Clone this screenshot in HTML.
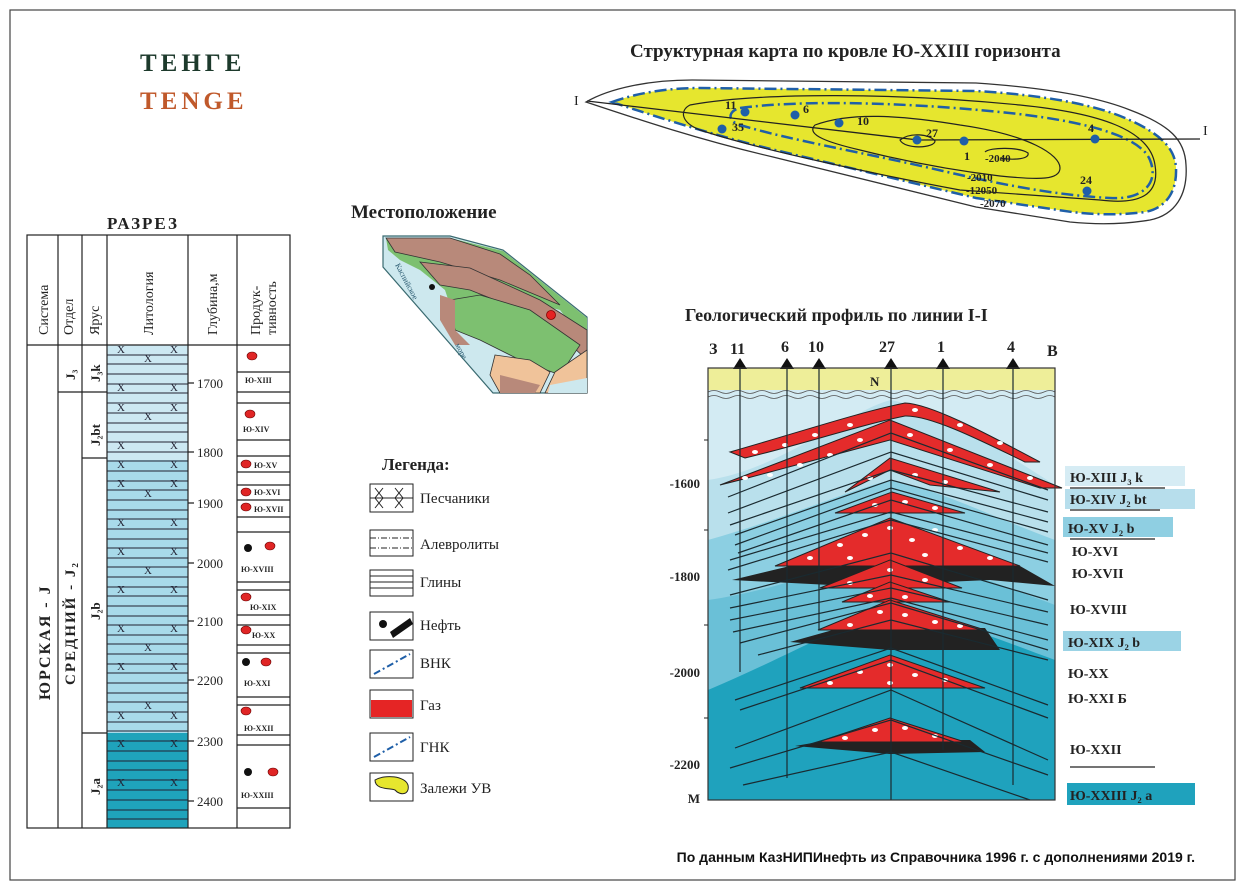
<!DOCTYPE html>
<html><head><meta charset="utf-8"><style>
html,body{margin:0;padding:0;background:#fff}
svg{display:block}
text{font-family:"Liberation Serif",serif}
</style></head><body>
<svg width="1247" height="891" viewBox="0 0 1247 891" xmlns="http://www.w3.org/2000/svg">
<rect x="10" y="10" width="1225" height="870" fill="#fff" stroke="#444" stroke-width="1.2"/>
<!-- titles -->
<text x="140" y="71" font-size="25" font-weight="bold" fill="#1d3a2c" letter-spacing="4">ТЕНГЕ</text>
<text x="140" y="109" font-size="25" font-weight="bold" fill="#c0592b" letter-spacing="4">TENGE</text>
<text x="630" y="57" font-size="19" font-weight="bold" fill="#222">Структурная карта по  кровле Ю-XXIII горизонта</text>
<text x="107" y="229" font-size="17" font-weight="bold" fill="#222" letter-spacing="2">РАЗРЕЗ</text>
<text x="351" y="218" font-size="19" font-weight="bold" fill="#222">Местоположение</text>
<text x="685" y="321" font-size="18" font-weight="bold" fill="#222">Геологический профиль по линии I-I</text>
<text x="382" y="470" font-size="17" font-weight="bold" fill="#222">Легенда:</text>
<text x="1195" y="862" font-size="14" font-weight="bold" fill="#111" text-anchor="end" style="font-family:'Liberation Sans',sans-serif">По данным КазНИПИнефть из Справочника 1996 г. с дополнениями 2019 г.</text>

<!-- STRUCT MAP -->
<path d="M586,102 C610,88 650,80 692,80 L976,83 C1050,88 1100,98 1130,110 C1170,125 1185,140 1186,165 C1188,195 1175,215 1150,220 C1120,225 1090,224 1070,222 L976,207 L773,157 C700,140 640,120 586,102Z" fill="#fff" stroke="#333" stroke-width="1.3"/>
<path d="M612,102 C640,92 670,88 700,88 L976,91 C1045,95 1095,105 1125,118 C1160,133 1175,148 1176,168 C1177,192 1166,208 1145,212 C1115,216 1090,214 1072,212 L976,198 L775,150 C720,137 660,118 612,102Z" fill="#e6e62e" stroke="#1f5fa8" stroke-width="2.5" stroke-dasharray="12,4,2,4"/>
<path d="M740,108 C800,100 900,102 1000,112 C1080,120 1140,135 1150,160 C1160,185 1140,200 1110,198 C1050,195 990,182 930,168 C860,152 790,140 740,125 C725,120 730,110 740,108Z" fill="none" stroke="#1f5fa8" stroke-width="2.5" stroke-dasharray="12,4,2,4"/>
<path d="M690,105 C760,92 900,93 1020,105 C1100,113 1150,130 1155,165 C1160,195 1140,205 1100,200 L960,190 C880,175 760,150 700,130 C680,122 680,110 690,105Z" fill="none" stroke="#222" stroke-width="1.2"/>
<path d="M815,125 C850,112 900,115 960,125 C1030,135 1060,155 1060,168 C1060,180 1040,180 1000,176 C950,170 900,160 860,150 C830,143 805,135 815,125Z" fill="none" stroke="#222" stroke-width="1.2"/>
<path d="M900,140 C910,132 930,134 935,141 C935,148 905,150 900,140Z" fill="none" stroke="#222" stroke-width="1.2"/>
<path d="M985,152 C990,147 1020,147 1028,153 C1030,160 1010,160 1000,158" fill="none" stroke="#222" stroke-width="1.2"/>
<line x1="587" y1="101" x2="918" y2="140" stroke="#222" stroke-width="1.3"/>
<line x1="918" y1="140" x2="1200" y2="139" stroke="#222" stroke-width="1.3"/>
<text x="574" y="105" font-size="14" fill="#222">I</text>
<text x="1203" y="135" font-size="14" fill="#222">I</text>
<g fill="#1f5fa8">
<circle cx="745" cy="112" r="4.5"/><circle cx="722" cy="129" r="4.5"/><circle cx="795" cy="115" r="4.5"/><circle cx="839" cy="123" r="4.5"/><circle cx="917" cy="140" r="4.5"/><circle cx="964" cy="141" r="4.5"/><circle cx="1095" cy="139" r="4.5"/><circle cx="1087" cy="191" r="4.5"/>
</g>
<g font-size="12" fill="#222" font-weight="bold">
<text x="725" y="109">11</text><text x="732" y="131">35</text><text x="803" y="113">6</text><text x="857" y="125">10</text><text x="926" y="137">27</text><text x="964" y="160">1</text><text x="1088" y="132">4</text><text x="1080" y="184">24</text>
<text x="985" y="162" font-size="11">-2040</text><text x="967" y="181" font-size="11">-2010</text><text x="966" y="194" font-size="11">-12050</text><text x="980" y="207" font-size="11">-2070</text>
</g>

<!-- LOCATION MAP -->
<polygon points="383,236 450,236 503,250 587,317 587,393 493,393 383,267" fill="#cde8ee" stroke="#3a6a70" stroke-width="1.2"/>
<path d="M386,238 L450,238 L503,251 L587,318 L587,345 L560,310 L520,300 L470,300 L455,320 L445,290 L420,270 L400,260 L388,250Z" fill="#7dc070"/>
<path d="M386,238 L450,238 L500,254 L530,275 L560,305 L500,280 L440,262 L395,252Z" fill="#b8897a" stroke="#333" stroke-width="0.8"/>
<path d="M420,262 L470,268 L540,300 L587,330 L587,360 L560,335 L520,310 L470,290 L440,285 Z" fill="#b8897a" stroke="#333" stroke-width="0.8"/>
<path d="M450,300 L480,295 L530,310 L580,345 L560,375 L520,360 L480,340 L455,330Z" fill="#7dc070" stroke="#333" stroke-width="0.8"/>
<path d="M555,372 L587,350 L587,393 L545,393Z" fill="#f0c39a" stroke="#333" stroke-width="0.8"/>
<path d="M495,355 L530,360 L550,372 L540,393 L500,393 L490,375Z" fill="#f0c39a" stroke="#333" stroke-width="0.8"/>
<path d="M440,295 L455,300 L455,330 L470,345 L455,345 L440,320Z" fill="#b8897a"/>
<path d="M500,375 L540,385 L535,393 L500,393Z" fill="#b8897a"/>
<path d="M550,385 L587,378 L587,393 L548,393Z" fill="#cde8ee"/>
<circle cx="432" cy="287" r="3" fill="#111"/><circle cx="551" cy="315" r="4.5" fill="#e62222" stroke="#800" stroke-width="0.8"/>
<text x="395" y="265" font-size="8" fill="#2a5a70" transform="rotate(62 395 265)">Каспийское</text>
<text x="455" y="345" font-size="8" fill="#2a5a70" transform="rotate(62 455 345)">море</text>

<!-- LEGEND -->
<g stroke="#222" stroke-width="1" fill="#fff">
<rect x="370" y="484" width="43" height="28"/>
<rect x="370" y="530" width="43" height="26"/>
<rect x="370" y="570" width="43" height="26"/>
<rect x="370" y="612" width="43" height="28"/>
<rect x="370" y="650" width="43" height="28"/>
<rect x="370" y="690" width="43" height="28"/>
<rect x="370" y="733" width="43" height="28"/>
<rect x="370" y="773" width="43" height="28"/>
</g>
<g stroke="#222" stroke-width="1" fill="none">
<path d="M375,488 l8,10 l-8,10 M383,488 l-8,10 l8,10 M395,488 l8,10 l-8,10 M403,488 l-8,10 l8,10"/>
<line x1="370" y1="498" x2="413" y2="498"/>
<line x1="370" y1="538" x2="413" y2="538" stroke-dasharray="6,2,1,2"/><line x1="370" y1="548" x2="413" y2="548" stroke-dasharray="6,2,1,2"/>
<line x1="370" y1="576" x2="413" y2="576"/><line x1="370" y1="582" x2="413" y2="582"/><line x1="370" y1="588" x2="413" y2="588"/>
<line x1="374" y1="674" x2="410" y2="654" stroke="#1f5fa8" stroke-width="2" stroke-dasharray="7,3,2,3"/>
<line x1="374" y1="757" x2="410" y2="737" stroke="#1f5fa8" stroke-width="2" stroke-dasharray="7,3,2,3"/>
</g>
<circle cx="383" cy="624" r="4" fill="#111"/><polygon points="390,632 410,618 413,624 393,638" fill="#111"/>
<rect x="371" y="700" width="41" height="17" fill="#e52525"/>
<g fill="#fff"><ellipse cx="378" cy="698" rx="3" ry="2"/><ellipse cx="391" cy="698" rx="3" ry="2"/><ellipse cx="404" cy="698" rx="3" ry="2"/></g>
<path d="M375,780 C385,774 405,776 408,785 C410,795 400,796 395,790 C390,788 375,790 375,780Z" fill="#e6e62e" stroke="#222"/>
<g font-size="15" fill="#222">
<text x="420" y="503">Песчаники</text><text x="420" y="549">Алевролиты</text><text x="420" y="587">Глины</text><text x="420" y="630">Нефть</text><text x="420" y="668">ВНК</text><text x="420" y="710">Газ</text><text x="420" y="752">ГНК</text><text x="420" y="793">Залежи УВ</text>
</g>

<!-- LEFT TABLE -->
<rect x="107" y="345" width="81" height="115" fill="#cce8f2"/>
<rect x="107" y="460" width="81" height="273" fill="#a8daea"/>
<rect x="107" y="733" width="81" height="95" fill="#1fa3bb"/>
<g stroke="#223" stroke-width="0.9">
<path d="M107,355H188M107,364H188M107,374H188M107,384H188M107,393H188M107,403H188M107,413H188M107,423H188M107,432H188M107,442H188M107,452H188M107,461H188M107,471H188M107,481H188M107,490H188M107,500H188M107,510H188M107,519H188M107,529H188M107,539H188M107,548H188M107,558H188M107,567H188M107,577H188M107,587H188M107,596H188M107,606H188M107,616H188M107,625H188M107,635H188M107,644H188M107,654H188M107,664H188M107,673H188M107,683H188M107,693H188M107,702H188M107,712H188M107,722H188M107,731H188M107,741H188M107,751H188M107,761H188M107,770H188M107,780H188M107,790H188M107,800H188M107,810H188M107,819H188"/>
</g>
<g font-size="11" fill="#223" text-anchor="middle">
<text x="121" y="353">X</text><text x="174" y="353">X</text><text x="148" y="362">X</text><text x="121" y="391">X</text><text x="174" y="391">X</text><text x="121" y="411">X</text><text x="174" y="411">X</text><text x="148" y="420">X</text><text x="121" y="449">X</text><text x="174" y="449">X</text><text x="121" y="468">X</text><text x="174" y="468">X</text><text x="121" y="487">X</text><text x="174" y="487">X</text><text x="148" y="497">X</text><text x="121" y="526">X</text><text x="174" y="526">X</text><text x="121" y="555">X</text><text x="174" y="555">X</text><text x="148" y="574">X</text><text x="121" y="593">X</text><text x="174" y="593">X</text><text x="121" y="632">X</text><text x="174" y="632">X</text><text x="148" y="651">X</text><text x="121" y="670">X</text><text x="174" y="670">X</text><text x="148" y="709">X</text><text x="121" y="719">X</text><text x="174" y="719">X</text><text x="121" y="747">X</text><text x="174" y="747">X</text><text x="121" y="786">X</text><text x="174" y="786">X</text>
</g>
<g stroke="#222" stroke-width="1.2" fill="none">
<rect x="27" y="235" width="263" height="593"/>
<line x1="58" y1="235" x2="58" y2="828"/><line x1="82" y1="235" x2="82" y2="828"/><line x1="107" y1="235" x2="107" y2="828"/><line x1="188" y1="235" x2="188" y2="828"/><line x1="237" y1="235" x2="237" y2="828"/>
<line x1="27" y1="345" x2="290" y2="345"/>
<line x1="58" y1="392" x2="107" y2="392"/><line x1="82" y1="458" x2="107" y2="458"/><line x1="82" y1="733" x2="107" y2="733"/>
<path d="M188,383h6M188,452h6M188,503h6M188,563h6M188,621h6M188,680h6M188,741h6M188,801h6"/>
<path d="M237,372H290M237,392H290M237,403H290M237,440H290M237,456H290M237,472H290M237,485H290M237,500H290M237,517H290M237,532H290M237,582H290M237,590H290M237,615H290M237,625H290M237,645H290M237,653H290M237,697H290M237,705H290M237,735H290M237,745H290M237,808H290"/>
</g>
<g font-size="14" fill="#222">
<text transform="translate(48,335) rotate(-90)">Система</text>
<text transform="translate(73,335) rotate(-90)">Отдел</text>
<text transform="translate(99,335) rotate(-90)">Ярус</text>
<text transform="translate(153,335) rotate(-90)">Литология</text>
<text transform="translate(217,335) rotate(-90)">Глубина,м</text>
<text transform="translate(260,335) rotate(-90)">Продук-</text>
<text transform="translate(276,335) rotate(-90)">тивность</text>
<text transform="translate(50,700) rotate(-90)" font-size="16" font-weight="bold" letter-spacing="2">ЮРСКАЯ - J</text>
<text transform="translate(75,685) rotate(-90)" font-size="15" font-weight="bold" letter-spacing="2">СРЕДНИЙ - J₂</text>
<text transform="translate(75,380) rotate(-90)" font-size="13" font-weight="bold">J₃</text>
<text transform="translate(100,382) rotate(-90)" font-size="13" font-weight="bold">J₃k</text>
<text transform="translate(100,446) rotate(-90)" font-size="13" font-weight="bold">J₂bt</text>
<text transform="translate(100,620) rotate(-90)" font-size="13" font-weight="bold">J₂b</text>
<text transform="translate(100,795) rotate(-90)" font-size="13" font-weight="bold">J₂a</text>
</g>
<g font-size="13" fill="#222">
<text x="197" y="388">1700</text><text x="197" y="457">1800</text><text x="197" y="508">1900</text><text x="197" y="568">2000</text><text x="197" y="626">2100</text><text x="197" y="685">2200</text><text x="197" y="746">2300</text><text x="197" y="806">2400</text>
</g>
<g fill="#e02525" stroke="#600" stroke-width="0.6">
<ellipse cx="252" cy="356" rx="5" ry="4"/><ellipse cx="250" cy="414" rx="5" ry="4"/><ellipse cx="246" cy="464" rx="5" ry="4"/><ellipse cx="246" cy="492" rx="5" ry="4"/><ellipse cx="246" cy="507" rx="5" ry="4"/><ellipse cx="270" cy="546" rx="5" ry="4"/><ellipse cx="246" cy="597" rx="5" ry="4"/><ellipse cx="246" cy="630" rx="5" ry="4"/><ellipse cx="266" cy="662" rx="5" ry="4"/><ellipse cx="246" cy="711" rx="5" ry="4"/><ellipse cx="273" cy="772" rx="5" ry="4"/>
</g>
<g fill="#111"><circle cx="248" cy="548" r="4"/><circle cx="246" cy="662" r="4"/><circle cx="248" cy="772" r="4"/></g>
<g font-size="8" font-weight="bold" fill="#222">
<text x="245" y="383">Ю-XIII</text><text x="243" y="432">Ю-XIV</text><text x="254" y="468">Ю-XV</text><text x="254" y="495">Ю-XVI</text><text x="254" y="512">Ю-XVII</text><text x="241" y="572">Ю-XVIII</text><text x="250" y="610">Ю-XIX</text><text x="252" y="638">Ю-XX</text><text x="244" y="686">Ю-XXI</text><text x="244" y="731">Ю-XXII</text><text x="241" y="798">Ю-XXIII</text>
</g>

<!-- PROFILE -->
<rect x="708" y="368" width="347" height="432" fill="#d3ebf3"/>
<path d="M708,480 C780,470 850,410 891,400 C940,410 1000,450 1055,485 L1055,800 L708,800Z" fill="#b9e0ec"/>
<path d="M708,540 C780,520 850,490 891,480 C940,490 1000,520 1055,540 L1055,800 L708,800Z" fill="#8ccfe2"/>
<path d="M708,600 C780,590 850,560 891,555 C940,560 1000,585 1055,605 L1055,800 L708,800Z" fill="#6ac0d7"/>
<path d="M708,690 C780,660 850,620 891,610 C940,615 1000,640 1055,660 L1055,800 L708,800Z" fill="#1fa2bd"/>
<rect x="708" y="368" width="347" height="22" fill="#eeee99"/>
<path d="M708,392 q6,-3 12,0 t12,0 t12,0 t12,0 t12,0 t12,0 t12,0 t12,0 t12,0 t12,0 t12,0 t12,0 t12,0 t12,0 t12,0 t12,0 t12,0 t12,0 t12,0 t12,0 t12,0 t12,0 t12,0 t12,0 t12,0 t12,0 t12,0 t12,0 t11,0" stroke="#555" fill="none" stroke-width="0.8"/>
<path d="M708,397 q6,-3 12,0 t12,0 t12,0 t12,0 t12,0 t12,0 t12,0 t12,0 t12,0 t12,0 t12,0 t12,0 t12,0 t12,0 t12,0 t12,0 t12,0 t12,0 t12,0 t12,0 t12,0 t12,0 t12,0 t12,0 t12,0 t12,0 t12,0 t12,0 t11,0" stroke="#555" fill="none" stroke-width="0.8"/>
<!-- black oil -->
<g fill="#222">
<polygon points="732,580 790,566 1020,566 1055,586 990,580 850,586"/>
<polygon points="790,642 840,628 985,628 1000,650 890,650"/>
<polygon points="795,746 830,740 970,740 985,752 890,754"/>
</g>
<!-- red gas -->
<g fill="#e42b2b" stroke="#222" stroke-width="1">
<path d="M730,452 C800,432 860,412 905,403 C930,404 980,430 1040,462 L1025,462 C980,440 930,415 905,416 C860,425 800,445 745,458Z"/>
<path d="M720,485 L890,420 L1062,488 L1040,488 L890,440 L740,480Z"/>
<path d="M845,492 L890,458 L1000,492 L930,485 L890,470Z"/>
<path d="M835,513 L892,492 L965,513 Z"/>
<path d="M775,566 L890,518 L1020,566 Z"/>
<path d="M820,588 L890,560 L962,588 Z"/>
<path d="M842,602 L890,582 L950,602 Z"/>
<path d="M818,630 L890,600 L985,630 Z"/>
<path d="M800,688 L890,655 L985,688 Z"/>
<path d="M818,742 L890,718 L965,742 Z"/>
</g>
<g fill="#fff">
<ellipse cx="755" cy="452" rx="3" ry="2"/><ellipse cx="785" cy="445" rx="3" ry="2"/><ellipse cx="815" cy="435" rx="3" ry="2"/><ellipse cx="850" cy="425" rx="3" ry="2"/><ellipse cx="915" cy="410" rx="3" ry="2"/><ellipse cx="960" cy="425" rx="3" ry="2"/><ellipse cx="1000" cy="443" rx="3" ry="2"/>
<ellipse cx="745" cy="478" rx="3" ry="2"/><ellipse cx="770" cy="475" rx="3" ry="2"/><ellipse cx="800" cy="465" rx="3" ry="2"/><ellipse cx="830" cy="455" rx="3" ry="2"/><ellipse cx="860" cy="440" rx="3" ry="2"/><ellipse cx="910" cy="435" rx="3" ry="2"/><ellipse cx="950" cy="450" rx="3" ry="2"/><ellipse cx="990" cy="465" rx="3" ry="2"/><ellipse cx="1030" cy="478" rx="3" ry="2"/>
<ellipse cx="870" cy="478" rx="3" ry="2"/><ellipse cx="915" cy="475" rx="3" ry="2"/><ellipse cx="945" cy="482" rx="3" ry="2"/>
<ellipse cx="875" cy="505" rx="3" ry="2"/><ellipse cx="905" cy="502" rx="3" ry="2"/><ellipse cx="935" cy="508" rx="3" ry="2"/>
<ellipse cx="810" cy="558" rx="3" ry="2"/><ellipse cx="840" cy="545" rx="3" ry="2"/><ellipse cx="865" cy="535" rx="3" ry="2"/><ellipse cx="890" cy="528" rx="3" ry="2"/><ellipse cx="912" cy="540" rx="3" ry="2"/><ellipse cx="935" cy="530" rx="3" ry="2"/><ellipse cx="960" cy="548" rx="3" ry="2"/><ellipse cx="990" cy="558" rx="3" ry="2"/><ellipse cx="850" cy="558" rx="3" ry="2"/><ellipse cx="925" cy="555" rx="3" ry="2"/>
<ellipse cx="850" cy="583" rx="3" ry="2"/><ellipse cx="890" cy="570" rx="3" ry="2"/><ellipse cx="925" cy="580" rx="3" ry="2"/>
<ellipse cx="870" cy="596" rx="3" ry="2"/><ellipse cx="905" cy="597" rx="3" ry="2"/>
<ellipse cx="850" cy="625" rx="3" ry="2"/><ellipse cx="880" cy="612" rx="3" ry="2"/><ellipse cx="905" cy="615" rx="3" ry="2"/><ellipse cx="935" cy="622" rx="3" ry="2"/><ellipse cx="960" cy="626" rx="3" ry="2"/>
<ellipse cx="830" cy="683" rx="3" ry="2"/><ellipse cx="860" cy="672" rx="3" ry="2"/><ellipse cx="890" cy="665" rx="3" ry="2"/><ellipse cx="915" cy="675" rx="3" ry="2"/><ellipse cx="945" cy="680" rx="3" ry="2"/><ellipse cx="890" cy="683" rx="3" ry="2"/>
<ellipse cx="845" cy="738" rx="3" ry="2"/><ellipse cx="875" cy="730" rx="3" ry="2"/><ellipse cx="905" cy="728" rx="3" ry="2"/><ellipse cx="935" cy="736" rx="3" ry="2"/>
</g>
<!-- layer lines -->
<g stroke="#1a2a30" stroke-width="1.2" fill="none">
<polyline points="728,497 891,433 1048,490"/>
<polyline points="728,513 891,452 1048,500"/>
<polyline points="730,525 891,470 1048,512"/>
<polyline points="735,535 891,480 1048,522"/>
<polyline points="735,545 891,488 1048,532"/>
<polyline points="738,553 891,500 1048,545"/>
<polyline points="730,560 891,512 1048,553"/>
<polyline points="728,570 891,520 1048,562"/>
<polyline points="730,595 891,553 1048,600"/>
<polyline points="730,608 891,575 1048,612"/>
<polyline points="730,620 891,588 1048,625"/>
<polyline points="733,632 891,598 1048,640"/>
<polyline points="740,643 891,603 1048,650"/>
<polyline points="758,655 891,620 1048,660"/>
<polyline points="735,700 891,648 1048,705"/>
<polyline points="740,710 891,660 1048,718"/>
<polyline points="735,748 891,690 1048,760"/>
<polyline points="730,768 891,720 1048,775"/>
<polyline points="743,785 891,752 1030,800"/>
</g>
<!-- wells -->
<g stroke="#1a2a30" stroke-width="1.2">
<line x1="740" y1="368" x2="740" y2="672"/><line x1="787" y1="368" x2="787" y2="778"/><line x1="819" y1="368" x2="819" y2="630"/><line x1="891" y1="368" x2="891" y2="800"/><line x1="943" y1="368" x2="943" y2="750"/><line x1="1013" y1="368" x2="1013" y2="785"/>
</g>
<g fill="#111"><polygon points="733,369 740,358 747,369"/><polygon points="780,369 787,358 794,369"/><polygon points="812,369 819,358 826,369"/><polygon points="884,369 891,358 898,369"/><polygon points="936,369 943,358 950,369"/><polygon points="1006,369 1013,358 1020,369"/></g>
<rect x="708" y="368" width="347" height="432" fill="none" stroke="#333" stroke-width="1.2"/>
<g font-size="16" font-weight="bold" fill="#222">
<text x="709" y="354">З</text><text x="730" y="354">11</text><text x="781" y="352">6</text><text x="808" y="352">10</text><text x="879" y="352">27</text><text x="937" y="352">1</text><text x="1007" y="352">4</text><text x="1047" y="356">В</text>
<text x="870" y="386" font-size="13">N</text>
</g>
<g font-size="13" font-weight="bold" fill="#222" text-anchor="end">
<text x="700" y="488">-1600</text><text x="700" y="581">-1800</text><text x="700" y="677">-2000</text><text x="700" y="769">-2200</text><text x="700" y="803">М</text>
</g>
<g stroke="#222"><path d="M704,440h4M704,530h4M704,625h4M704,718h4"/></g>
<!-- right labels -->
<rect x="1065" y="466" width="120" height="20" fill="#d6ecf4"/>
<rect x="1065" y="489" width="130" height="20" fill="#b7deec"/>
<rect x="1063" y="517" width="110" height="20" fill="#8fcfe2"/>
<rect x="1063" y="631" width="118" height="20" fill="#9bd3e5"/>
<rect x="1067" y="783" width="128" height="22" fill="#1fa2bd"/>
<g stroke="#222" stroke-width="1.3"><path d="M1070,488h95M1070,510h90M1070,539h85M1070,767h85"/></g>
<g font-size="14" font-weight="bold" fill="#222">
<text x="1070" y="482">Ю-XIII  J₃ k</text>
<text x="1070" y="504">Ю-XIV J₂ bt</text>
<text x="1068" y="533">Ю-XV  J₂ b</text>
<text x="1072" y="556">Ю-XVI</text>
<text x="1072" y="578">Ю-XVII</text>
<text x="1070" y="614">Ю-XVIII</text>
<text x="1068" y="647">Ю-XIX  J₂ b</text>
<text x="1068" y="678">Ю-XX</text>
<text x="1068" y="703">Ю-XXI Б</text>
<text x="1070" y="754">Ю-XXII</text>
<text x="1070" y="800">Ю-XXIII  J₂ a</text>
</g>
</svg>
</body></html>
